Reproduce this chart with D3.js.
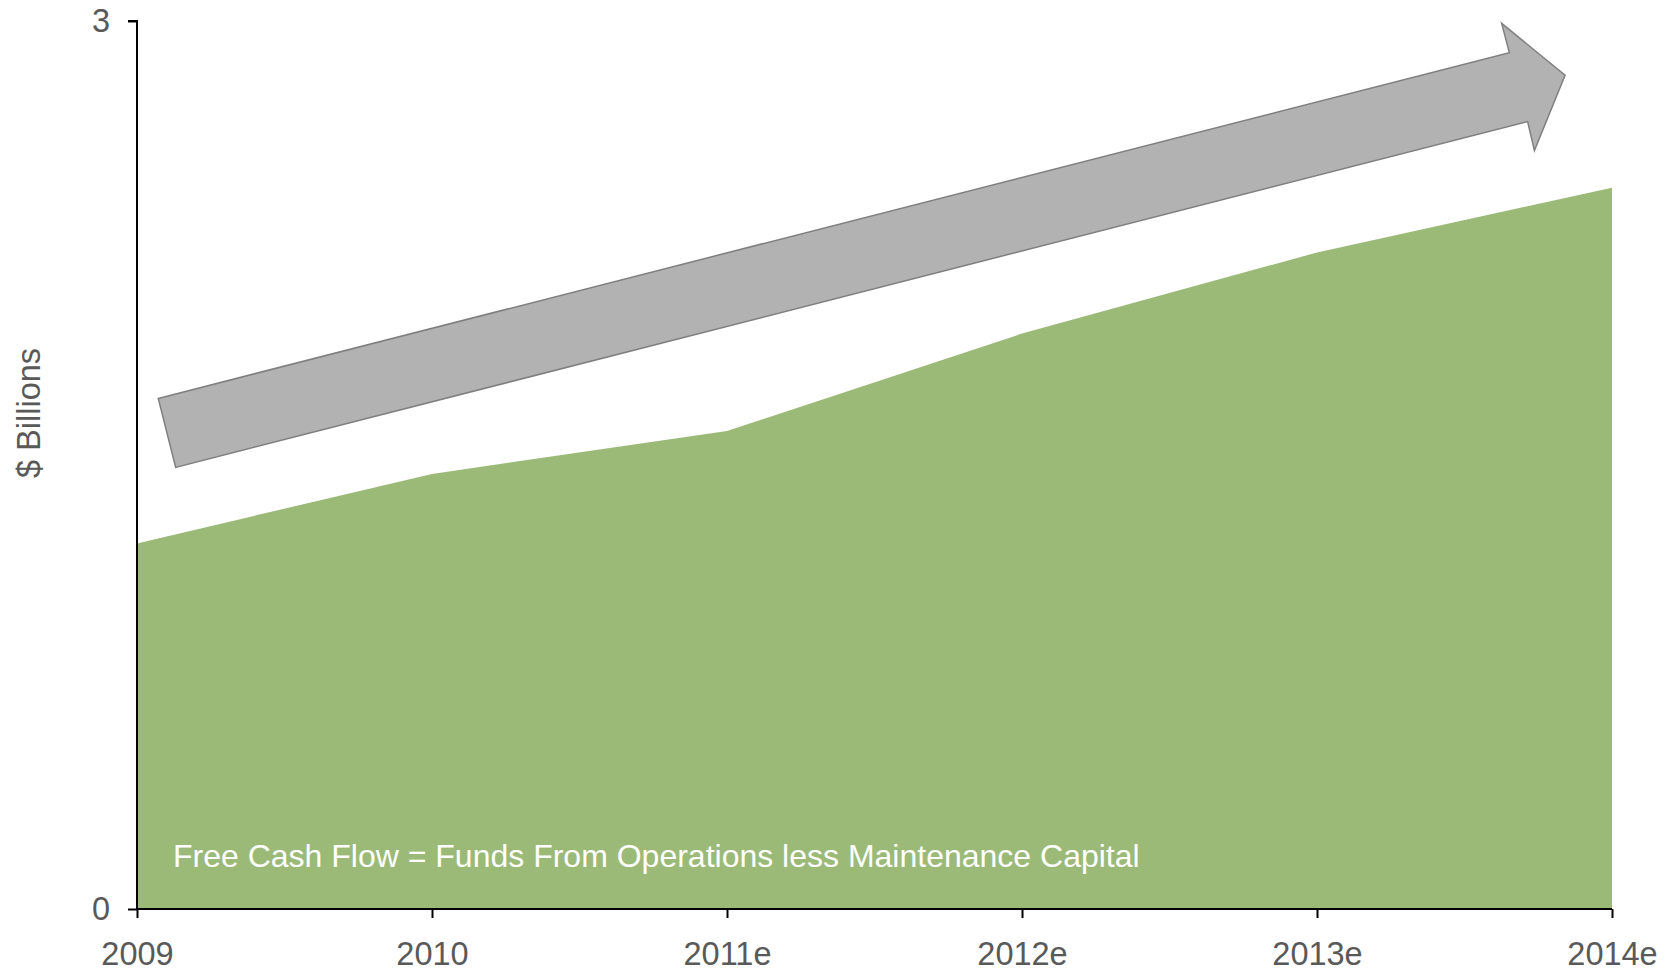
<!DOCTYPE html>
<html>
<head>
<meta charset="utf-8">
<script src="https://cdn.jsdelivr.net/npm/d3@7"></script>
<style>
  html, body { margin: 0; padding: 0; background: #fff; }
  svg { display: block; font-family: "Liberation Sans", Arial, sans-serif; }
</style>
</head>
<body>
<svg id="chart" width="1671" height="972"></svg>
<script>
// Free cash flow, $ billions
const years = ["2009", "2010", "2011e", "2012e", "2013e", "2014e"];
const freeCashFlow = [1.235, 1.47, 1.615, 1.944, 2.218, 2.437];
const yTicks = [0, 3];
const yTitle = "$ Billions";
const note = "Free Cash Flow = Funds From Operations less Maintenance Capital";

// Growth arrow outline, in (year index, $ billions)
const arrowIdx = [0.072, 4.652, 4.626, 4.841, 4.737, 4.714, 0.131];
const arrowVal = [1.725, 2.893, 2.992, 2.817, 2.562, 2.660, 1.492];

const svg = d3.select("#chart");
const plotLeft = 137, plotRight = 1612, plotTop = 21, plotBottom = 909;
const fontSize = 32.5;

const x = d3.scalePoint().domain(years).range([plotLeft, plotRight]);
const xi = d3.scaleLinear().domain([0, years.length - 1]).range([plotLeft, plotRight]);
const y = d3.scaleLinear().domain([0, 3]).range([plotBottom, plotTop]);

// Area
const area = d3.area()
  .x((d, i) => x(years[i]))
  .y0(y(0))
  .y1(d => y(d));
svg.append("path")
  .datum(freeCashFlow)
  .attr("d", area)
  .attr("fill", "#9bba78");

// Arrow
const arrowPts = arrowIdx.map((v, i) => [xi(v), y(arrowVal[i])]);
svg.append("path")
  .attr("d", d3.line()(arrowPts) + "Z")
  .attr("fill", "#b2b2b2")
  .attr("stroke", "#7f7f7f")
  .attr("stroke-width", 1.5)
  .attr("stroke-linejoin", "miter");

// Note inside the area
svg.append("text")
  .attr("x", 173)
  .attr("y", 867)
  .attr("fill", "#ffffff")
  .attr("font-size", 32)
  .text(note);

// Axes
const yAxis = d3.axisLeft(y).tickValues(yTicks).tickSize(9).tickPadding(18).tickFormat(d3.format("d"));
const gy = svg.append("g").attr("transform", `translate(${plotLeft},0)`).call(yAxis);
gy.select(".domain").attr("stroke", "#000").attr("stroke-width", 2)
  .attr("d", `M-9,${plotTop}H0V${plotBottom}`);
gy.selectAll(".tick line").attr("stroke", "#000").attr("stroke-width", 2);
gy.selectAll(".tick text").attr("fill", "#595959").attr("font-size", fontSize)
  .attr("font-family", "'Liberation Sans', Arial, sans-serif");

const xAxis = d3.axisBottom(x).tickSize(9).tickPadding(24);
const gx = svg.append("g").attr("transform", `translate(0,${plotBottom})`).call(xAxis);
gx.select(".domain").attr("stroke", "#000").attr("stroke-width", 2)
  .attr("d", `M${plotLeft},0H${plotRight}`);
gx.selectAll(".tick line").attr("stroke", "#000").attr("stroke-width", 2);
gx.selectAll(".tick text").attr("fill", "#595959").attr("font-size", fontSize)
  .attr("font-family", "'Liberation Sans', Arial, sans-serif");

// Y title
svg.append("text")
  .attr("transform", `translate(40,${(plotTop + plotBottom) / 2 - 52}) rotate(-90)`)
  .attr("text-anchor", "middle")
  .attr("fill", "#595959")
  .attr("font-size", fontSize)
  .text(yTitle);
</script>
</body>
</html>
